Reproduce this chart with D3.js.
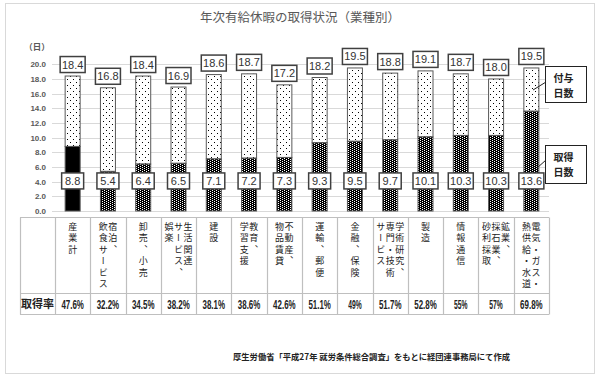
<!DOCTYPE html>
<html lang="ja">
<head>
<meta charset="utf-8">
<title>年次有給休暇の取得状況（業種別）</title>
<script src="https://d3js.org/d3.v7.min.js"></script>
<style>
  body { margin: 0; background: #fff; }
  svg text { font-family: "Noto Sans CJK JP", sans-serif; }
  .num { font-family: "Liberation Sans", Arial, sans-serif; }
  .tick text { font-family: "Liberation Sans", Arial, sans-serif; font-size: 8px; font-weight: bold; fill: #595959; }
  .vlabel { writing-mode: vertical-rl; font-size: 9px; letter-spacing: 2.5px; fill: #222; }
</style>
</head>
<body>
<svg id="chart" width="599" height="380"></svg>
<script>
// categories, each as its vertical lines (right to left)
var categories = [
  ["産業計"],
  ["宿泊、", "飲食サービス"],
  ["卸売、小売"],
  ["生活関連", "サービス、", "娯楽"],
  ["建設"],
  ["教育、", "学習支援"],
  ["不動産、", "物品賃貸"],
  ["運輸、郵便"],
  ["金融、保険"],
  ["学術研究、", "専門・技術", "サービス"],
  ["製造"],
  ["情報通信"],
  ["鉱業、", "採石業、", "砂利採取"],
  ["電気・ガス・", "熱供給・水道"]
];
var granted = [18.4, 16.8, 18.4, 16.9, 18.6, 18.7, 17.2, 18.2, 19.5, 18.8, 19.1, 18.7, 18.0, 19.5];
var taken   = [8.8, 5.4, 6.4, 6.5, 7.1, 7.2, 7.3, 9.3, 9.5, 9.7, 10.1, 10.3, 10.3, 13.6];
var rates   = ["47.6%", "32.2%", "34.5%", "38.2%", "38.1%", "38.6%", "42.6%", "51.1%", "49%", "51.7%", "52.8%", "55%", "57%", "69.8%"];
var yTicks  = [0, 2, 4, 6, 8, 10, 12, 14, 16, 18, 20];

var svg = d3.select("#chart");

// patterns
var defs = svg.append("defs");
var pDots = defs.append("pattern").attr("id", "dots")
    .attr("width", 6).attr("height", 6).attr("patternUnits", "userSpaceOnUse");
pDots.append("rect").attr("width", 6).attr("height", 6).attr("fill", "#fff");
pDots.append("rect").attr("x", 1).attr("y", 1).attr("width", 1).attr("height", 1).attr("fill", "#000");
pDots.append("rect").attr("x", 4).attr("y", 4).attr("width", 1).attr("height", 1).attr("fill", "#000");

var pDark = defs.append("pattern").attr("id", "dark")
    .attr("width", 4).attr("height", 2).attr("patternUnits", "userSpaceOnUse");
pDark.append("rect").attr("width", 4).attr("height", 2).attr("fill", "#000");
pDark.append("rect").attr("x", 0).attr("y", 0).attr("width", 1).attr("height", 1).attr("fill", "#fff");
pDark.append("rect").attr("x", 2).attr("y", 1).attr("width", 1).attr("height", 1).attr("fill", "#fff");

// outer frame
svg.append("rect").attr("x", 5.5).attr("y", 3.5).attr("width", 589).attr("height", 370)
  .attr("fill", "#fff").attr("stroke", "#d9d9d9");

svg.append("text").attr("x", 300).attr("y", 22).attr("text-anchor", "middle")
  .attr("font-size", 12.5).attr("fill", "#595959")
  .text("年次有給休暇の取得状況（業種別）");

var x = d3.scaleBand().domain(d3.range(categories.length)).range([55, 549]);
var y = d3.scaleLinear().domain([0, 20]).range([211, 64.3]);
var bw = 15;

// grid
svg.append("g").selectAll("line").data(yTicks).join("line")
  .attr("x1", 52).attr("x2", 549)
  .attr("y1", d => Math.round(y(d)) + 0.5).attr("y2", d => Math.round(y(d)) + 0.5)
  .attr("stroke", "#d9d9d9");

var yAxis = svg.append("g").attr("transform", "translate(48,0)")
  .call(d3.axisLeft(y).tickValues(yTicks).tickFormat(d3.format(".1f")).tickSize(0).tickPadding(2));
yAxis.select(".domain").remove();

svg.append("text").attr("x", 37).attr("y", 50).attr("text-anchor", "middle")
  .attr("font-size", 8.5).attr("font-weight", "bold").attr("fill", "#595959").text("（日）");

// bars
var bars = svg.append("g");
bars.selectAll("rect.top").data(granted).join("rect").attr("class", "top")
  .attr("x", (d, i) => x(i) + x.bandwidth() / 2 - bw / 2)
  .attr("y", d => y(d))
  .attr("width", bw)
  .attr("height", (d, i) => y(taken[i]) - y(d))
  .attr("fill", "url(#dots)").attr("stroke", "#595959").attr("stroke-width", 1);
bars.selectAll("rect.bot").data(taken).join("rect").attr("class", "bot")
  .attr("x", (d, i) => x(i) + x.bandwidth() / 2 - bw / 2)
  .attr("y", d => y(d))
  .attr("width", bw)
  .attr("height", d => y(0) - y(d))
  .attr("fill", (d, i) => i === 0 ? "#000" : "url(#dark)").attr("stroke", "#595959").attr("stroke-width", 1);

// value boxes
function box(g, cx, cy, txt) {
  var w = txt.length > 3 ? 25 : 22;
  g.append("rect").attr("x", cx - w / 2).attr("y", cy - 8).attr("width", w).attr("height", 16)
    .attr("fill", "#fff").attr("stroke", "#404040").attr("stroke-width", 1.5);
  g.append("text").attr("class", "num").attr("x", cx).attr("y", cy + 4)
    .attr("text-anchor", "middle").attr("font-size", 11).attr("fill", "#333").text(txt);
}
var lab = svg.append("g");
granted.forEach(function (d, i) { box(lab, x(i) + x.bandwidth() / 2, y(d) - 11.5, d.toFixed(1)); });
taken.forEach(function (d, i) { box(lab, x(i) + x.bandwidth() / 2, y(4.1), d.toFixed(1)); });

// legend callouts
function callout(x0, y0, w, h, lines, lx1, ly1, lx2, ly2) {
  svg.append("line").attr("x1", lx1).attr("y1", ly1).attr("x2", lx2).attr("y2", ly2)
    .attr("stroke", "#222");
  svg.append("rect").attr("x", x0).attr("y", y0).attr("width", w).attr("height", h)
    .attr("fill", "#fff").attr("stroke", "#222");
  lines.forEach(function (t, k) {
    svg.append("text").attr("x", x0 + 8).attr("y", y0 + 15 + k * 15)
      .attr("font-size", 10).attr("font-weight", "bold").attr("fill", "#222").text(t);
  });
}
callout(545.5, 66.5, 41, 36, ["付与", "日数"], 533, 90, 546, 82);
callout(545.5, 145.5, 41, 38, ["取得", "日数"], 537, 168, 546, 160);

// data table
var tTop = 217.5, tMid = 293.5, tBot = 314.5;
var tab = svg.append("g").attr("stroke", "#bfbfbf").attr("stroke-width", 1.2);
tab.append("line").attr("x1", 20).attr("x2", 549).attr("y1", tTop).attr("y2", tTop);
tab.append("line").attr("x1", 20).attr("x2", 549).attr("y1", tMid).attr("y2", tMid);
tab.append("line").attr("x1", 20).attr("x2", 549).attr("y1", tBot).attr("y2", tBot);
var edges = [20].concat(d3.range(categories.length).map(i => x(i)), [549]);
tab.selectAll("line.v").data(edges).join("line").attr("class", "v")
  .attr("x1", d => Math.round(d) + 0.5).attr("x2", d => Math.round(d) + 0.5)
  .attr("y1", tTop).attr("y2", tBot);

var vl = svg.append("g");
categories.forEach(function (lines, i) {
  var cx = x(i) + x.bandwidth() / 2;
  var n = lines.length;
  lines.forEach(function (t, k) {
    vl.append("text").attr("class", "vlabel")
      .attr("x", cx + (n - 1) / 2 * 9.5 - k * 9.5).attr("y", 222)
      .text(t);
  });
});

svg.append("text").attr("x", 37.5).attr("y", 308).attr("text-anchor", "middle")
  .attr("font-size", 11).attr("font-weight", "bold").attr("fill", "#222").text("取得率");
svg.append("g").selectAll("text").data(rates).join("text")
  .attr("x", (d, i) => x(i) + x.bandwidth() / 2).attr("y", 308.5)
  .attr("text-anchor", "middle")
  .attr("textLength", d => d.length * 4.5).attr("lengthAdjust", "spacingAndGlyphs")
  .style("font-family", "'Liberation Sans', sans-serif")
  .attr("font-size", 12.5).attr("font-weight", "bold").attr("fill", "#222").text(d => d);

svg.append("text").attr("x", 510).attr("y", 360).attr("text-anchor", "end")
  .attr("font-size", 8.3).attr("font-weight", "bold").attr("fill", "#222")
  .text("厚生労働省「平成27年 就労条件総合調査」をもとに経団連事務局にて作成");
</script>
</body>
</html>
